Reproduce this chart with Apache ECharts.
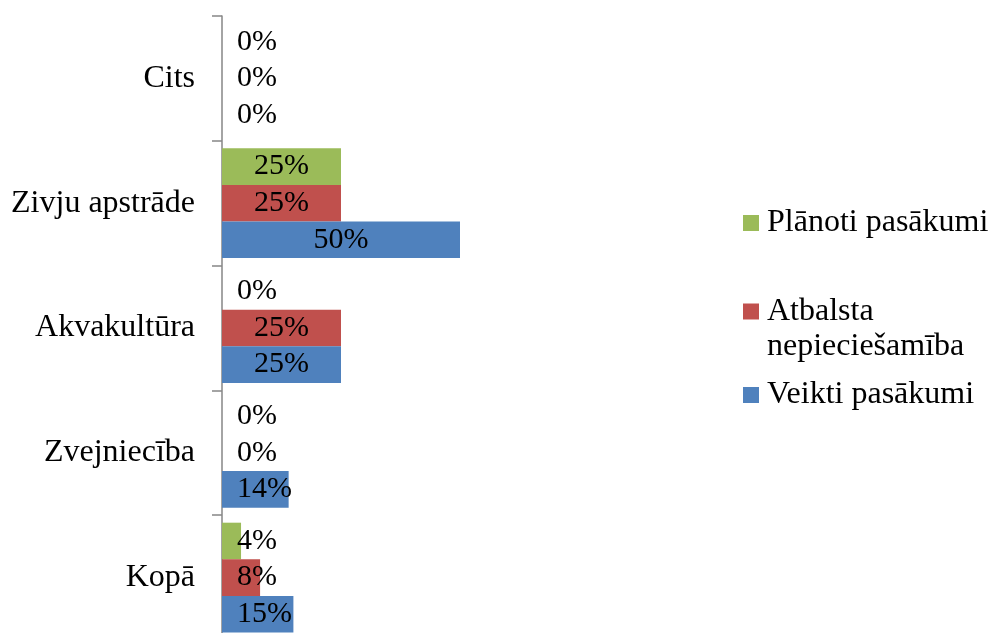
<!DOCTYPE html>
<html>
<head>
<meta charset="utf-8">
<script src="https://cdn.jsdelivr.net/npm/echarts@6/dist/echarts.min.js"></script>
<style>
html,body{margin:0;padding:0;background:#fff;}
#chart{width:990px;height:633px;}
</style>
</head>
<body>
<div id="chart"></div>
<script>
var categories = ['Kopā', 'Zvejniecība', 'Akvakultūra', 'Zivju apstrāde', 'Cits'];
var seriesNames = ['Plānoti pasākumi', 'Atbalsta nepieciešamība', 'Veikti pasākumi'];
var planoti = [4, 0, 0, 25, 0];
var atbalsta = [8, 0, 25, 25, 0];
var veikti = [15, 14, 25, 50, 0];
var colors = ['#9BBB59', '#C0504D', '#4F81BD'];

var FONT = '"Liberation Serif", "Times New Roman", serif';

function makeData(vals) {
  return vals.map(function (v) {
    if (v < 20) {
      return { value: v, label: { position: 'insideLeft', distance: 15 } };
    }
    return { value: v };
  });
}

var chart = echarts.init(document.getElementById('chart'));
var allVals = [planoti, atbalsta, veikti];
var series = seriesNames.map(function (n, i) {
  return {
    name: n,
    type: 'bar',
    data: makeData(allVals[i]),
    barCategoryGap: '12%',
    barGap: '0%',
    itemStyle: { color: colors[i] },
    label: {
      show: true,
      position: 'inside',
      color: '#000',
      fontFamily: FONT,
      fontSize: 30,
      formatter: '{c}%'
    },
    emphasis: { disabled: true },
    animation: false
  };
});

function legendFor(name, top, opts) {
  var l = {
    data: [name],
    orient: 'vertical',
    left: 743,
    top: top,
    padding: 0,
    icon: 'rect',
    itemWidth: 16,
    itemHeight: 16,
    selectedMode: false,
    textStyle: {
      fontFamily: FONT,
      fontSize: 32,
      color: '#000',
      lineHeight: 35,
      padding: [0, 0, 0, 3]
    }
  };
  if (opts) {
    for (var k in opts) l[k] = opts[k];
  }
  return l;
}

chart.setOption({
  animation: false,
  color: colors,
  grid: { left: 222, top: 16, width: 476, height: 624, containLabel: false, outerBoundsMode: 'none' },
  xAxis: {
    type: 'value',
    min: 0,
    max: 100,
    show: false
  },
  yAxis: {
    type: 'category',
    data: categories,
    axisLine: { show: true, lineStyle: { color: '#868686', width: 1.5 } },
    axisTick: { show: true, length: 10, inside: false, lineStyle: { color: '#868686', width: 1.5 } },
    axisLabel: {
      margin: 27,
      color: '#000',
      fontFamily: FONT,
      fontSize: 32
    },
    splitLine: { show: false }
  },
  legend: [
    legendFor('Plānoti pasākumi', 205.5),
    legendFor('Atbalsta nepieciešamība', 259, {
      formatter: function () { return '\nAtbalsta\nnepieciešamība'; }
    }),
    legendFor('Veikti pasākumi', 377.5)
  ],
  series: series
});
</script>
</body>
</html>
